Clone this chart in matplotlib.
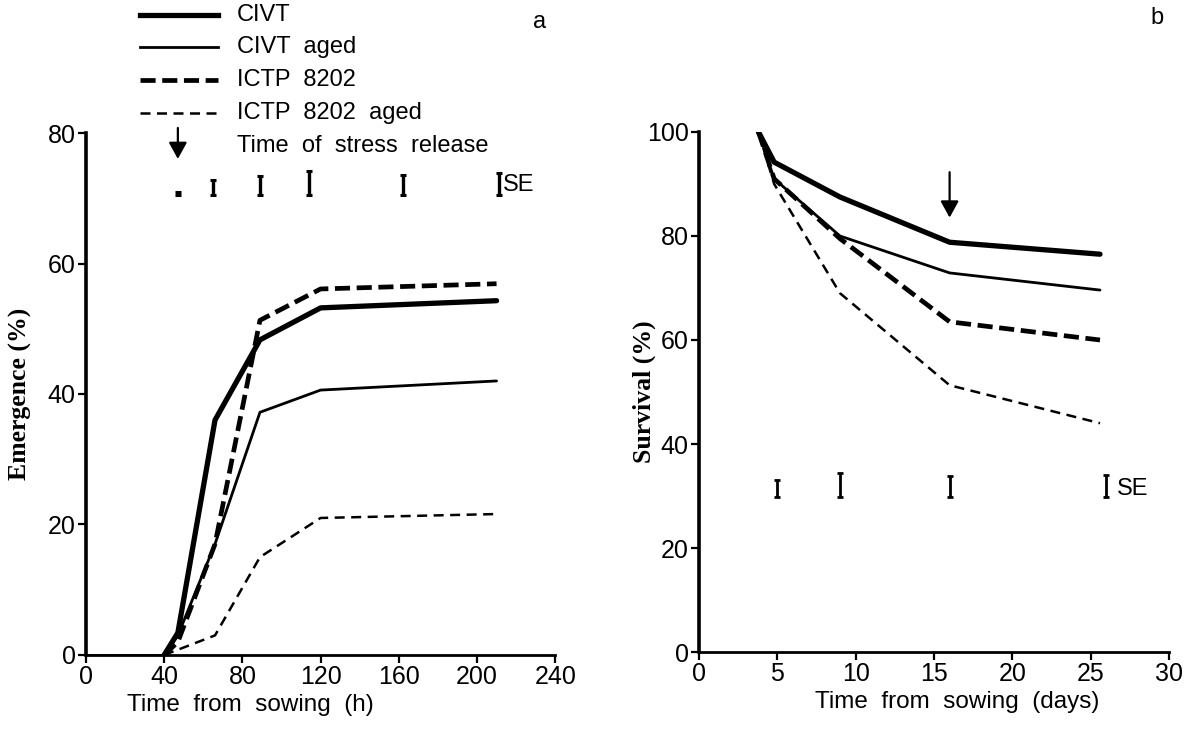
import matplotlib
matplotlib.use("Agg")
import numpy as np
import matplotlib.pyplot as plt
from matplotlib.lines import Line2D

plt.rcParams['font.family'] = ['Liberation Sans', 'DejaVu Sans']

# (a) emergence over time from sowing, hours
hours = [40, 47, 66, 89, 120, 210]
emerg_civt = [0, 3.4, 36, 48.3, 53.2, 54.3]
emerg_civt_aged = [0, 3.0, 17, 37.2, 40.6, 42.0]
emerg_ictp = [0, 2.0, 17, 51.3, 56.1, 56.9]
emerg_ictp_aged = [0, 0.8, 3.0, 15.0, 21.0, 21.6]

se_hours = [47, 65, 89, 114, 162, 211]
se_emerg = [0.5, 2.3, 2.9, 3.7, 3.1, 3.4]
se_base_a = 70.5
release_hours = 47

# (b) survival over time from sowing, days
days = [3.8, 4.8, 9, 16, 25.6]
surv_civt = [100, 94.2, 87.5, 78.8, 76.5]
surv_civt_aged = [100, 91.0, 80.0, 72.9, 69.6]
surv_ictp = [100, 91.0, 79.5, 63.5, 60.0]
surv_ictp_aged = [100, 90.0, 69.0, 51.3, 44.0]

se_days = [5, 9, 16, 26]
se_surv = [3.3, 4.6, 4.0, 4.2]
se_base_b = 29.8
release_days = 16

labels = ['CIVT', 'CIVT  aged', 'ICTP  8202', 'ICTP  8202  aged']
styles = [dict(color='k', lw=3.8, ls='-'),
          dict(color='k', lw=2.0, ls='-'),
          dict(color='k', lw=3.4, ls=(0, (3.2, 1.4))),
          dict(color='k', lw=1.8, ls=(0, (4.0, 2.6)))]

fig = plt.figure(figsize=(11.94, 7.39), dpi=100)
ax1 = fig.add_axes([0.072, 0.1137, 0.393, 0.7063])
ax2 = fig.add_axes([0.5854, 0.1177, 0.3936, 0.7037])

ARROW = dict(arrowstyle='-|>,head_length=1.0,head_width=0.55', color='k', lw=1.6)


def style_axes(ax):
    for side in ['top', 'right']:
        ax.spines[side].set_visible(False)
    ax.spines['left'].set_linewidth(2.6)
    ax.spines['bottom'].set_linewidth(2.0)
    ax.tick_params(direction='out', length=6, width=1.6, labelsize=18,
                   pad=1.5, color='k')


for ys, st in zip([emerg_civt, emerg_civt_aged, emerg_ictp, emerg_ictp_aged], styles):
    ax1.plot(hours, ys, solid_capstyle='round', **st)
ax1.plot([0, hours[0]], [0, 0], color='k', lw=2)
ax1.set_xlim(0, 240)
ax1.set_ylim(0, 80)
ax1.set_xticks(range(0, 241, 40))
ax1.set_yticks(range(0, 81, 20))
style_axes(ax1)
ax1.set_xlabel('Time  from  sowing  (h)', fontsize=17.5, labelpad=3, x=0.35)
ax1.set_ylabel('Emergence (%)', fontsize=18.5, family='Liberation Serif',
               weight='bold')
ax1.yaxis.set_label_coords(-0.116, 0.5)

se_a = np.array(se_emerg)
ax1.errorbar(se_hours, se_base_a + se_a / 2, yerr=se_a / 2, fmt='none',
             ecolor='k', elinewidth=2.4, capsize=2.5, capthick=2.2, clip_on=False)
ax1.text(213, se_base_a + 1.5, 'SE', fontsize=17, va='center', ha='left')
ax1.annotate('', xy=(release_hours, 75.6), xytext=(release_hours, 81.2),
             arrowprops=ARROW, annotation_clip=False)

for ys, st in zip([surv_civt, surv_civt_aged, surv_ictp, surv_ictp_aged], styles):
    ax2.plot(days, ys, solid_capstyle='round', **st)
ax2.set_xlim(0, 30)
ax2.set_ylim(0, 100)
ax2.set_xticks(range(0, 31, 5))
ax2.set_yticks(range(0, 101, 20))
style_axes(ax2)
ax2.set_xlabel('Time  from  sowing  (days)', fontsize=17.5, labelpad=3, x=0.55)
ax2.set_ylabel('Survival (%)', fontsize=18.5, family='Liberation Serif',
               weight='bold')
ax2.yaxis.set_label_coords(-0.092, 0.5)

se_b = np.array(se_surv)
ax2.errorbar(se_days, se_base_b + se_b / 2, yerr=se_b / 2, fmt='none',
             ecolor='k', elinewidth=2.0, capsize=2.5, capthick=2.0)
ax2.text(26.7, se_base_b + 1.6, 'SE', fontsize=17, va='center', ha='left')
ax2.annotate('', xy=(release_days, 83.0), xytext=(release_days, 92.8),
             arrowprops=ARROW)

# legend drawn in figure coordinates above panel a
W, H = 1194, 739
rows_y = [15, 47, 80, 113]
for y, lab, st in zip(rows_y, labels, styles):
    fig.add_artist(Line2D([140 / W, 218 / W], [1 - y / H, 1 - y / H],
                          transform=fig.transFigure, **st))
    fig.text(237 / W, 1 - y / H, lab, fontsize=17, va='center', ha='left')
fig.text(237 / W, 1 - 146 / H, 'Time  of  stress  release', fontsize=17,
         va='center', ha='left')

fig.text(540 / W, 1 - 22 / H, 'a', fontsize=17, va='center', ha='center')
fig.text(1157 / W, 1 - 18 / H, 'b', fontsize=17, va='center', ha='center')

fig.savefig('out.png', dpi=100)
